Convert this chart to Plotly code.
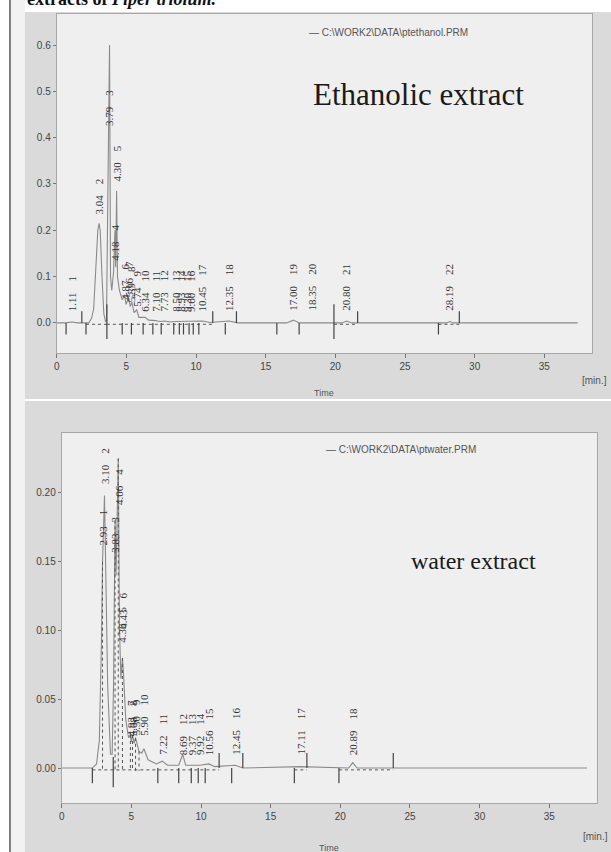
import plotly.graph_objects as go

W, H = 611, 852

# ---------------- Ethanolic extract (top chromatogram) ----------------
eth_time = [0.0, 0.6, 1.11, 1.5, 2.3, 2.5, 2.65, 2.8, 2.95, 3.04, 3.12, 3.25, 3.38, 3.5,
            3.57, 3.79, 3.86, 3.95, 4.08, 4.18, 4.23, 4.30, 4.36, 4.5, 4.7, 4.87, 4.98,
            5.16, 5.28, 5.39, 5.55, 5.74, 5.9, 6.34, 6.6, 7.10, 7.4, 7.73, 8.2, 8.5,
            8.93, 9.30, 9.60, 10.45, 11.0, 12.35, 13.0, 16.5, 17.0, 17.4, 20.5, 20.8,
            21.2, 28.0, 28.19, 28.5, 37.4]
eth_signal = [0.0, 0.0, 0.002, 0.0, 0.0, 0.01, 0.03, 0.11, 0.20, 0.215, 0.20, 0.10, 0.02, 0.003,
              0.004, 0.60, 0.10, 0.07, 0.11, 0.20, 0.12, 0.285, 0.10, 0.07, 0.05, 0.06, 0.04,
              0.055, 0.035, 0.045, 0.022, 0.028, 0.012, 0.012, 0.006, 0.005, 0.003, 0.004, 0.002, 0.003,
              0.003, 0.003, 0.003, 0.004, 0.001, 0.004, 0.0, 0.0, 0.006, 0.0, 0.0, 0.004,
              0.0, 0.0, 0.003, 0.0, 0.0]
eth_peak_no = [1, 2, 3, 4, 5, 6, 7, 8, 9, 10, 11, 12, 13, 14, 15, 16, 17, 18, 19, 20, 21, 22]
eth_peak_rt = [1.11, 3.04, 3.79, 4.18, 4.30, 4.87, 5.16, 5.39, 5.74, 6.34, 7.10, 7.73, 8.50,
               8.93, 9.30, 9.60, 10.45, 12.35, 17.00, 18.35, 20.80, 28.19]
eth_rt_text = ["1.11", "3.04", "3.79", "4.18", "4.30", "4.87", "5.16", "5.39", "5.74", "6.34",
               "7.10", "7.73", "8.50", "8.93", "9.30", "9.60", "10.45", "12.35", "17.00",
               "18.35", "20.80", "28.19"]
eth_events_up = [1.8, 11.2, 12.9, 21.6, 28.9]
eth_events_down = [0.67, 2.1, 4.7, 5.36, 6.2, 6.9, 7.5, 8.4, 8.8, 9.1, 9.5, 9.8, 10.2,
                   12.1, 15.8, 17.4, 27.4]
eth_events_long = [3.6, 19.9]
eth_baseline_start = [2.1, 3.6, 19.9, 27.4]
eth_baseline_end = [3.6, 11.2, 21.6, 28.9]
eth_yticks = [0.0, 0.1, 0.2, 0.3, 0.4, 0.5, 0.6]
eth_yticktext = ["0.0", "0.1", "0.2", "0.3", "0.4", "0.5", "0.6"]

# ---------------- Water extract (bottom chromatogram) ----------------
wat_time = [0.0, 2.2, 2.5, 2.7, 2.85, 2.93, 3.07, 3.15, 3.3, 3.5, 3.62, 3.72, 3.83, 3.9,
            4.0, 4.06, 4.15, 4.25, 4.36, 4.43, 4.6, 4.8, 4.93, 5.0, 5.08, 5.2, 5.30,
            5.55, 5.75, 5.90, 6.2, 6.8, 7.22, 7.6, 8.4, 8.69, 8.9, 9.37, 9.92, 10.56,
            11.0, 12.45, 13.0, 17.11, 20.6, 20.89, 21.2, 37.7]
wat_signal = [0.0, 0.0, 0.003, 0.02, 0.09, 0.15, 0.198, 0.15, 0.06, 0.01, 0.01, 0.06, 0.18, 0.14,
              0.20, 0.225, 0.10, 0.065, 0.08, 0.07, 0.035, 0.022, 0.024, 0.019, 0.024, 0.018, 0.022,
              0.012, 0.011, 0.014, 0.006, 0.003, 0.005, 0.002, 0.002, 0.010, 0.002, 0.002, 0.002, 0.003,
              0.001, 0.002, 0.0, 0.001, 0.0, 0.004, 0.0, 0.0]
wat_peak_no = [1, 2, 3, 4, 5, 6, 7, 8, 9, 10, 11, 12, 13, 14, 15, 16, 17, 18]
wat_peak_rt = [2.93, 3.10, 3.83, 4.06, 4.36, 4.43, 4.93, 5.08, 5.30, 5.90, 7.22, 8.69, 9.37,
               9.92, 10.56, 12.45, 17.11, 20.89]
wat_rt_text = ["2.93", "3.10", "3.83", "4.06", "4.36", "4.43", "4.93", "5.08", "5.30", "5.90",
               "7.22", "8.69", "9.37", "9.92", "10.56", "12.45", "17.11", "20.89"]
wat_events_up = [11.3, 13.0, 17.6, 23.8]
wat_events_down = [2.2, 6.9, 8.4, 9.3, 9.8, 10.3, 12.2, 16.7, 19.9]
wat_events_long = [3.7]
wat_baseline_start = [2.2, 16.7, 19.9]
wat_baseline_end = [11.3, 17.6, 23.8]
wat_drop_rt = [2.93, 3.83, 4.06, 4.36, 4.93, 5.08, 5.30, 5.55]
wat_yticks = [0.0, 0.05, 0.10, 0.15, 0.20]
wat_yticktext = ["0.00", "0.05", "0.10", "0.15", "0.20"]

x_ticks = [0, 5, 10, 15, 20, 25, 30, 35]

# ---------------- styling / placement ----------------
eth_label_base = [0.02, 0.23, 0.42, 0.13, 0.30, 0.045, 0.05, 0.04, 0.03, 0.02, 0.02, 0.02,
                  0.02, 0.02, 0.02, 0.02, 0.02, 0.022, 0.022, 0.022, 0.022, 0.022]
wat_label_base = [0.16, 0.205, 0.155, 0.19, 0.09, 0.10, 0.022, 0.022, 0.022, 0.022,
                  0.008, 0.008, 0.008, 0.008, 0.008, 0.008, 0.008, 0.008]


def px(x):
    return x / W


def py(y):
    return 1 - y / H


TOP = dict(x0=54, x1=592, y0=14, y1=353, yr=[-0.065, 0.667])
BOT = dict(x0=59, x1=597, y0=433, y1=803, yr=[-0.0254, 0.2435])
XR = [0, 38.43]

LINE_C = "#8a8a8a"
MARK_C = "#444444"
LBL_FONT = dict(family="Liberation Serif, serif", size=11, color="#333333")
SP = "\u00a0" * 4
NARROW = "Liberation Sans Narrow, Liberation Sans, sans-serif"

fig = go.Figure()


def add_chart(t, s, rts, nos, rtxt, bases, ev_up, ev_down, ev_long, bl_s, bl_e,
              ev_len, long_len, xa, ya):
    fig.add_trace(go.Scatter(x=t, y=s, mode="lines", line=dict(color=LINE_C, width=1.1),
                             xaxis=xa, yaxis=ya, hoverinfo="skip", showlegend=False))
    bx, by = [], []
    for a, b in zip(bl_s, bl_e):
        bx += [a, b, None]
        by += [-ev_len * 0.12, -ev_len * 0.12, None]
    fig.add_trace(go.Scatter(x=bx, y=by, mode="lines",
                             line=dict(color="#555555", width=1, dash="dot"),
                             xaxis=xa, yaxis=ya, hoverinfo="skip", showlegend=False))
    mx, my = [], []
    for e in ev_up:
        mx += [e, e, None]
        my += [0, ev_len, None]
    for e in ev_down:
        mx += [e, e, None]
        my += [0, -ev_len, None]
    for e in ev_long:
        mx += [e, e, None]
        my += [long_len[0], -long_len[1], None]
    fig.add_trace(go.Scatter(x=mx, y=my, mode="lines", line=dict(color=MARK_C, width=1.2),
                             xaxis=xa, yaxis=ya, hoverinfo="skip", showlegend=False))
    for rt, no, txt, b in zip(rts, nos, rtxt, bases):
        fig.add_annotation(x=rt, y=b, xref=xa, yref=ya, text=f"{txt}{SP}{no}",
                           textangle=-90, showarrow=False, xanchor="center",
                           yanchor="bottom", font=LBL_FONT)


add_chart(eth_time, eth_signal, eth_peak_rt, eth_peak_no, eth_rt_text, eth_label_base,
          eth_events_up, eth_events_down, eth_events_long, eth_baseline_start,
          eth_baseline_end, 0.025, (0.04, 0.035), "x", "y")
add_chart(wat_time, wat_signal, wat_peak_rt, wat_peak_no, wat_rt_text, wat_label_base,
          wat_events_up, wat_events_down, wat_events_long, wat_baseline_start,
          wat_baseline_end, 0.011, (0.008, 0.014), "x2", "y2")

# dotted drop lines in the water cluster
dx, dy = [], []
for rt in wat_drop_rt:
    i = min(range(len(wat_time)), key=lambda k: abs(wat_time[k] - rt))
    dx += [rt, rt, None]
    dy += [wat_signal[i], -0.002, None]
fig.add_trace(go.Scatter(x=dx, y=dy, mode="lines", line=dict(color="#555555", width=1, dash="dot"),
                         xaxis="x2", yaxis="y2", hoverinfo="skip", showlegend=False))

axis_common = dict(showgrid=False, zeroline=False, showline=True, mirror=True,
                   linecolor="#a8a8a8", linewidth=1, ticks="outside", tickcolor="#777777",
                   tickfont=dict(family=NARROW, size=10, color="#444444"))

fig.update_layout(
    width=W, height=H, margin=dict(l=0, r=0, t=0, b=0),
    paper_bgcolor="white", plot_bgcolor="rgba(0,0,0,0)",
    xaxis=dict(domain=[px(TOP["x0"]), px(TOP["x1"])], range=XR, anchor="y",
               tickvals=x_ticks, ticklen=4, **axis_common),
    yaxis=dict(domain=[py(TOP["y1"]), py(TOP["y0"])], range=TOP["yr"], anchor="x",
               tickvals=eth_yticks, ticktext=eth_yticktext, ticklen=3, **axis_common),
    xaxis2=dict(domain=[px(BOT["x0"]), px(BOT["x1"])], range=XR, anchor="y2",
                tickvals=x_ticks, ticklen=4, **axis_common),
    yaxis2=dict(domain=[py(BOT["y1"]), py(BOT["y0"])], range=BOT["yr"], anchor="x2",
                tickvals=wat_yticks, ticktext=wat_yticktext, ticklen=3, **axis_common),
    showlegend=False,
)

shapes = [
    dict(type="rect", xref="paper", yref="paper", x0=px(8), x1=px(22), y0=0, y1=1,
         fillcolor="#f2f2f2", line=dict(width=0), layer="below"),
    dict(type="rect", xref="paper", yref="paper", x0=px(22), x1=1, y0=py(399), y1=py(12),
         fillcolor="#dadada", line=dict(width=0), layer="below"),
    dict(type="rect", xref="paper", yref="paper", x0=px(22), x1=1, y0=0, y1=py(401),
         fillcolor="#dadada", line=dict(width=0), layer="below"),
    dict(type="rect", xref="paper", yref="paper", x0=px(TOP["x0"]), x1=px(TOP["x1"]),
         y0=py(TOP["y1"]), y1=py(TOP["y0"]), fillcolor="#efefef", line=dict(width=0), layer="below"),
    dict(type="rect", xref="paper", yref="paper", x0=px(BOT["x0"]), x1=px(BOT["x1"]),
         y0=py(BOT["y1"]), y1=py(BOT["y0"]), fillcolor="#efefef", line=dict(width=0), layer="below"),
    dict(type="line", xref="paper", yref="paper", x0=px(7), x1=px(7), y0=0, y1=1,
         line=dict(color="#555555", width=1.5)),
]
fig.update_layout(shapes=shapes)

ann_font_small = dict(family=NARROW, size=10, color="#555555")
texts = [
    dict(x=px(22), y=py(11), text="<b>extracts of <i>Piper triolum.</i></b>", xanchor="left",
         yanchor="bottom", font=dict(family="Liberation Serif, serif", size=18, color="#111111")),
    dict(x=px(305), y=py(33), text="\u2014 C:\\WORK2\\DATA\\ptethanol.PRM", xanchor="left",
         yanchor="middle", font=ann_font_small),
    dict(x=px(323), y=py(450), text="\u2014 C:\\WORK2\\DATA\\ptwater.PRM", xanchor="left",
         yanchor="middle", font=ann_font_small),
    dict(x=px(310), y=py(94), text="Ethanolic extract", xanchor="left", yanchor="middle",
         font=dict(family="Liberation Serif, serif", size=31, color="#1a1a1a")),
    dict(x=px(408), y=py(561), text="water extract", xanchor="left", yanchor="middle",
         font=dict(family="Liberation Serif, serif", size=24, color="#1a1a1a")),
    dict(x=px(609), y=py(381), text="[min.]", xanchor="right", yanchor="middle", font=ann_font_small),
    dict(x=px(323), y=py(393), text="Time", xanchor="center", yanchor="middle",
         font=dict(family=NARROW, size=9, color="#555555")),
    dict(x=px(610), y=py(836), text="[min.]", xanchor="right", yanchor="middle", font=ann_font_small),
    dict(x=px(328), y=py(848), text="Time", xanchor="center", yanchor="middle",
         font=dict(family=NARROW, size=9, color="#555555")),
]
for t in texts:
    fig.add_annotation(xref="paper", yref="paper", showarrow=False, **t)

fig.write_html(
    "out.html",
    config={"displayModeBar": False},
    post_script="document.body.style.margin='0';document.body.style.overflow='hidden';",
)
